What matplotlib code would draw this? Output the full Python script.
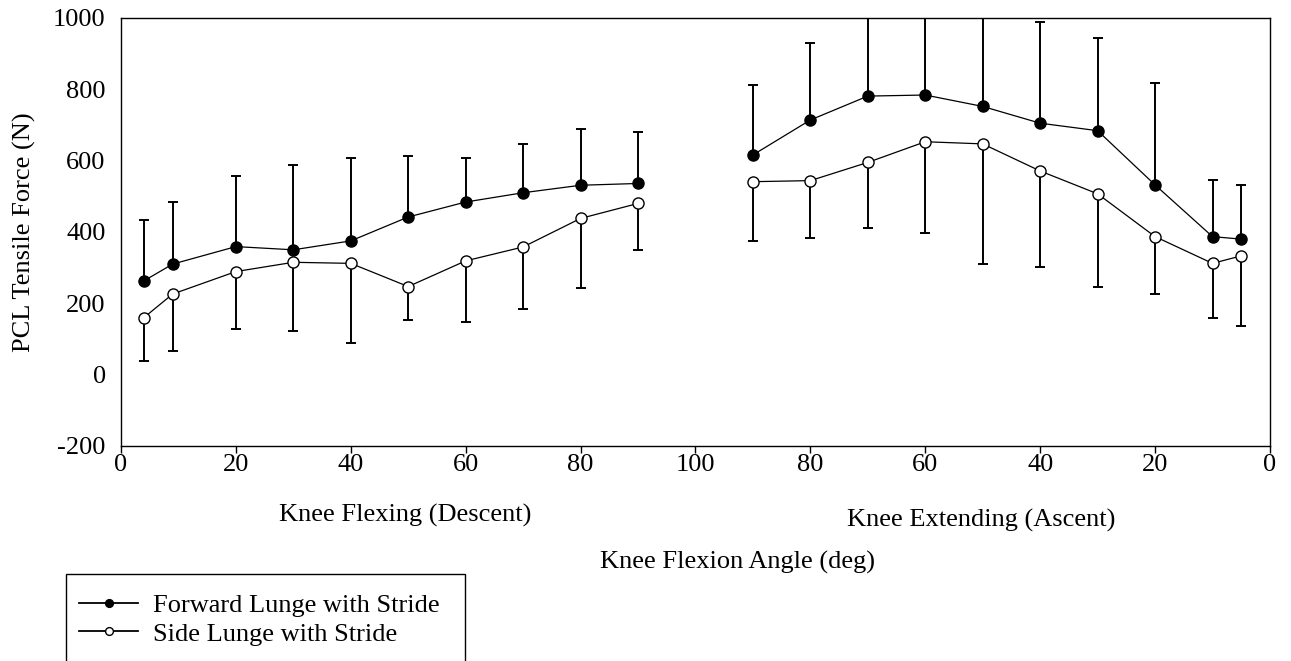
import matplotlib
matplotlib.use('Agg')
import matplotlib.pyplot as plt
from matplotlib.patches import Rectangle
import numpy as np

plt.rcParams['font.family'] = ['Liberation Serif', 'DejaVu Serif']

# knee angles (deg) for the two phases of the lunge
descent_angle = [4, 9, 20, 30, 40, 50, 60, 70, 80, 90]
ascent_angle = [90, 80, 70, 60, 50, 40, 30, 20, 10, 5]

# PCL tensile force (N): mean and SD
forward_descent = [263, 310, 359, 350, 375, 442, 484, 510, 531, 536]
forward_descent_sd = [170, 175, 199, 237, 233, 170, 123, 136, 158, 144]
side_descent = [160, 226, 289, 315, 312, 247, 319, 358, 438, 480]
side_descent_sd = [121, 160, 161, 192, 222, 94, 170, 175, 195, 130]

forward_ascent = [616, 714, 781, 784, 752, 705, 684, 532, 387, 380]
forward_ascent_sd = [195, 217, 250, 260, 290, 285, 259, 285, 158, 152]
side_ascent = [541, 544, 595, 653, 647, 571, 507, 387, 312, 333]
side_ascent_sd = [165, 161, 183, 257, 337, 268, 260, 161, 154, 196]

x_ticks = [0, 20, 40, 60, 80, 100, 120, 140, 160, 180, 200]
x_tick_labels = ['0', '20', '40', '60', '80', '100', '80', '60', '40', '20', '0']
y_ticks = [-200, 0, 200, 400, 600, 800, 1000]
y_tick_labels = ['-200', '0', '200', '400', '600', '800', '1000']

FS = 19

fig = plt.figure(figsize=(12.91, 6.61), dpi=100)
ax = fig.add_axes([0.0937, 0.3253, 0.89, 0.6475])

x_desc = np.array(descent_angle)
x_asc = 200 - np.array(ascent_angle)


def draw(x, mean, sd, filled, upper):
    mean = np.array(mean)
    sd = np.array(sd)
    zero = np.zeros_like(sd)
    yerr = [zero, sd] if upper else [sd, zero]
    ax.errorbar(x, mean, yerr=yerr, fmt='none', ecolor='black',
                elinewidth=1.4, capsize=3.5, capthick=1.4, zorder=2)
    line, = ax.plot(x, mean, color='black', lw=0.9, marker='o', ms=8,
                    mfc='black' if filled else 'white', mec='black',
                    mew=1.0, zorder=3)
    return line


fwd = draw(x_desc, forward_descent, forward_descent_sd, True, True)
draw(x_asc, forward_ascent, forward_ascent_sd, True, True)
side = draw(x_desc, side_descent, side_descent_sd, False, False)
draw(x_asc, side_ascent, side_ascent_sd, False, False)

ax.set_xlim(0, 200)
ax.set_ylim(-200, 1000)
ax.set_xticks(x_ticks)
ax.set_xticklabels(x_tick_labels)
ax.set_yticks(y_ticks)
ax.set_yticklabels(y_tick_labels)
ax.set_yticks([-200, 0, 1000], minor=True)
ax.tick_params(axis='x', direction='out', length=5, width=1, labelsize=FS, pad=1)
ax.tick_params(axis='y', which='major', length=0, labelsize=FS, pad=11)
ax.tick_params(axis='y', which='minor', direction='out', length=5, width=1)
for s in ax.spines.values():
    s.set_linewidth(1.0)

ax.set_ylabel('PCL Tensile Force (N)', fontsize=FS, labelpad=12)

fig.text(405 / 1291, 1 - 515 / 661, 'Knee Flexing (Descent)', fontsize=FS,
         ha='center', va='center')
fig.text(981 / 1291, 1 - 520 / 661, 'Knee Extending (Ascent)', fontsize=FS,
         ha='center', va='center')
fig.text(737 / 1291, 1 - 562 / 661, 'Knee Flexion Angle (deg)', fontsize=FS,
         ha='center', va='center')

# legend box runs off the bottom edge
fig.add_artist(Rectangle((66 / 1291, -0.05), (465 - 66) / 1291,
                         0.05 + 1 - 574 / 661, transform=fig.transFigure,
                         fill=False, edgecolor='black', lw=1.0))
leg = fig.legend([fwd, side], ['Forward Lunge with Stride', 'Side Lunge with Stride'],
                 loc='upper left', bbox_to_anchor=(61 / 1291, 1 - 575 / 661),
                 frameon=False, fontsize=FS, handlelength=2.2, handletextpad=0.6,
                 labelspacing=0.2, borderpad=0.2, markerscale=0.7)
for h in leg.legend_handles:
    h.set_linewidth(1.3)

fig.savefig('out.png', dpi=100)
